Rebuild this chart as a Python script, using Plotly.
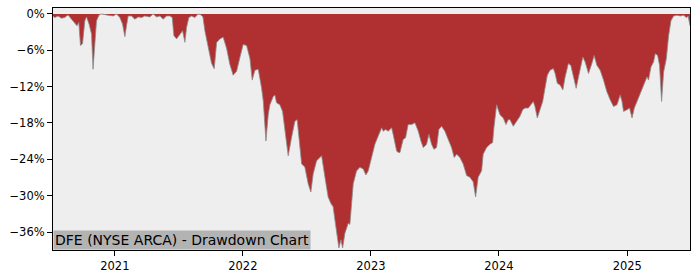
import pandas as pd
import plotly.graph_objects as go

# Time as decimal years, drawdown in percent
years = [
    2020.518, 2020.531, 2020.557, 2020.584, 2020.609, 2020.635, 2020.662, 2020.688, 2020.705, 2020.719,
    2020.732, 2020.748, 2020.766, 2020.779, 2020.799, 2020.818, 2020.830, 2020.844, 2020.857, 2020.877,
    2020.896, 2020.935, 2020.987, 2021.013, 2021.039, 2021.060, 2021.078, 2021.091, 2021.104, 2021.130,
    2021.156, 2021.182, 2021.209, 2021.234, 2021.273, 2021.299, 2021.326, 2021.352, 2021.377, 2021.404,
    2021.430, 2021.448, 2021.461, 2021.482, 2021.508, 2021.529, 2021.547, 2021.560, 2021.578, 2021.599,
    2021.625, 2021.651, 2021.672,
    2021.688, 2021.703, 2021.727, 2021.755, 2021.776, 2021.795, 2021.820, 2021.846, 2021.873, 2021.898,
    2021.924, 2021.951, 2021.977, 2022.002, 2022.029, 2022.055, 2022.073, 2022.094, 2022.120, 2022.133,
    2022.146, 2022.159, 2022.168, 2022.180,
    2022.198, 2022.211, 2022.237, 2022.250, 2022.263, 2022.289, 2022.310, 2022.328, 2022.354, 2022.380,
    2022.406, 2022.424, 2022.440, 2022.459, 2022.484, 2022.510, 2022.531, 2022.549, 2022.576, 2022.602,
    2022.615, 2022.641, 2022.666, 2022.688, 2022.705, 2022.719, 2022.737, 2022.750, 2022.766, 2022.779,
    2022.797, 2022.823, 2022.836, 2022.849, 2022.862, 2022.888, 2022.914, 2022.940, 2022.961, 2022.979,
    2022.992,
    2023.010, 2023.031, 2023.057, 2023.084, 2023.096, 2023.115, 2023.135, 2023.162, 2023.174, 2023.201,
    2023.213, 2023.227, 2023.252, 2023.271, 2023.291, 2023.318, 2023.344, 2023.370, 2023.391, 2023.409,
    2023.435, 2023.453, 2023.474, 2023.492, 2023.513, 2023.531, 2023.552, 2023.578, 2023.604, 2023.630,
    2023.651, 2023.670, 2023.695, 2023.721, 2023.748, 2023.773, 2023.799, 2023.818,
    2023.838, 2023.865, 2023.877, 2023.904, 2023.930, 2023.951, 2023.961, 2023.982, 2024.008, 2024.034,
    2024.055, 2024.073, 2024.086, 2024.112, 2024.138, 2024.164, 2024.185, 2024.203, 2024.229, 2024.255,
    2024.268, 2024.281, 2024.299, 2024.320, 2024.341, 2024.359, 2024.377, 2024.398, 2024.424, 2024.438,
    2024.455, 2024.477, 2024.498, 2024.516, 2024.541, 2024.560, 2024.580, 2024.602, 2024.620, 2024.633,
    2024.654, 2024.672, 2024.698, 2024.724, 2024.742, 2024.763, 2024.789, 2024.815, 2024.841, 2024.867,
    2024.893, 2024.920, 2024.945, 2024.959, 2024.971, 2024.998, 2025.018, 2025.037, 2025.055, 2025.076,
    2025.102, 2025.127, 2025.154, 2025.166, 2025.185, 2025.205, 2025.219, 2025.237, 2025.252, 2025.268,
    2025.284, 2025.305, 2025.323, 2025.341, 2025.362, 2025.388, 2025.414, 2025.440, 2025.461, 2025.476,
    2025.490,
]

drawdown_pct = [
    -0.33, -0.60, -0.33, -0.70, -0.60, -0.16, -0.86, -1.42, -1.96, -1.42,
    -5.22, -4.94, -1.14, -0.49, -1.68, -3.31, -9.13, -4.94, -1.14, -0.16,
    0.0, -0.16, -0.33, 0.0, -0.60, -1.68, -3.75, -1.96, -0.33, -0.33,
    -0.86, -0.49, -0.60, -0.33, -0.49, 0.0, -0.49, -0.33, -0.86, -0.33,
    -0.33, -0.60, -3.59, -4.12, -3.31, -2.77, -4.68, -2.23, -0.60, -0.33,
    -0.60, 0.0, -0.16,
    -0.49, -2.77, -5.38, -8.15, -9.05, -4.73, -4.12, -3.83, -5.71, -8.32,
    -10.11, -9.46, -7.17, -5.05, -5.22, -7.34, -10.92, -9.29, -9.13, -10.43,
    -12.23, -14.35, -17.45, -20.98,
    -16.63, -15.00, -13.65, -13.37, -14.67, -15.00, -16.09, -18.80, -23.43, -20.43,
    -17.72, -17.45, -20.38, -24.78, -25.27, -28.04, -29.40, -26.41, -24.24, -23.69,
    -23.43, -26.95, -30.21, -31.30, -31.84, -34.03, -37.29, -38.64, -37.29, -38.64,
    -36.19, -34.56, -34.73, -31.30, -28.04, -25.92, -25.32, -25.60, -26.58, -25.92,
    -24.78,
    -23.69, -21.52, -20.17, -18.80, -19.35, -19.08, -19.35, -18.80, -19.89, -22.61,
    -22.87, -22.87, -20.71, -20.43, -18.26, -18.26, -17.98, -19.35, -20.98, -22.06,
    -21.52, -19.89, -21.52, -22.34, -22.06, -19.08, -18.54, -19.35, -20.71, -22.06,
    -23.69, -23.15, -23.69, -24.78, -26.69, -26.95, -27.72, -30.21,
    -26.95, -25.87, -23.15, -22.06, -21.52, -21.24, -18.80, -15.00, -16.63, -17.17,
    -18.26, -17.45, -17.45, -18.54, -17.72, -16.91, -15.81, -15.54, -15.54, -14.72,
    -14.46, -15.28, -17.17, -15.81, -14.46, -12.28, -10.11, -9.29, -9.02, -9.83,
    -11.46, -11.74, -12.55, -10.39, -8.20, -8.48, -10.11, -12.28, -10.39, -9.29,
    -7.12, -7.94, -9.83, -8.20, -6.85, -8.48, -9.29, -10.92, -12.83, -14.18,
    -15.28, -15.00, -13.37, -14.46, -16.09, -15.81, -15.54, -17.17, -15.54, -14.46,
    -13.09, -11.74, -10.39, -10.92, -8.76, -7.94, -6.57, -6.85, -8.48, -14.46,
    -9.57, -7.39, -3.59, -1.14, -0.33, -0.21, -0.33, -0.21, -0.60, -0.40,
    -1.96,
]

year_ticks = [2021, 2022, 2023, 2024, 2025]
year_tick_labels = ["2021", "2022", "2023", "2024", "2025"]
pct_ticks = [0, -6, -12, -18, -24, -30, -36]
pct_tick_labels = ["0%", "\u22126%", "\u221212%", "\u221218%", "\u221224%", "\u221230%", "\u221236%"]
x_range_years = [2020.518, 2025.490]
y_range_pct = [-38.97, 0.98]
title_text = "DFE (NYSE ARCA) - Drawdown Chart"


def yr2dt(y):
    yi = int(y)
    start = pd.Timestamp(yi, 1, 1)
    end = pd.Timestamp(yi + 1, 1, 1)
    return start + (end - start) * (y - yi)


dates = [yr2dt(y) for y in years]

fig = go.Figure()
fig.add_trace(go.Scatter(
    x=dates, y=drawdown_pct, mode="lines", fill="tozeroy",
    fillcolor="#b03031", line=dict(color="#8c8c8c", width=0.8),
    hoverinfo="skip", showlegend=False,
))

font_family = "DejaVu Sans, sans-serif"
fig.update_layout(
    width=700, height=280,
    margin=dict(l=53, r=10, t=7, b=28),
    paper_bgcolor="white", plot_bgcolor="#eeeeee",
    font=dict(family=font_family, color="black", size=11.5),
    showlegend=False,
)
fig.update_xaxes(
    type="date", range=[yr2dt(x_range_years[0]), yr2dt(x_range_years[1])],
    tickvals=[yr2dt(y) for y in year_ticks], ticktext=year_tick_labels,
    ticks="outside", ticklen=5, tickwidth=1, tickcolor="black",
    showgrid=False, zeroline=False,
    showline=True, linecolor="black", linewidth=1, mirror=True,
    tickfont=dict(size=11.5, family=font_family, color="black"),
)
fig.update_yaxes(
    range=y_range_pct, tickvals=pct_ticks, ticktext=pct_tick_labels,
    ticks="outside", ticklen=5, tickwidth=1, tickcolor="black",
    showgrid=False, zeroline=False,
    showline=True, linecolor="black", linewidth=1, mirror=True,
    tickfont=dict(size=11.5, family=font_family, color="black"),
)
fig.add_annotation(
    text=title_text, xref="paper", yref="paper", x=0, y=0,
    xanchor="left", yanchor="bottom", showarrow=False,
    bgcolor="#b3b3b3", borderpad=1,
    font=dict(size=14, family=font_family, color="black"),
)

fig.write_html("out.html")
